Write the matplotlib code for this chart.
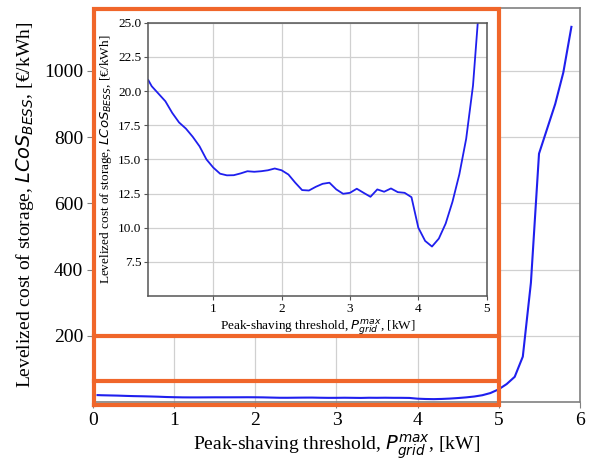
import matplotlib
matplotlib.use("Agg")
import matplotlib.pyplot as plt
from matplotlib.lines import Line2D
from matplotlib.patches import Rectangle

# Data (peak-shaving threshold [kW] vs LCoS [€/kWh])
threshold_kw = [0.05, 0.1, 0.2, 0.3, 0.4, 0.5, 0.6, 0.7, 0.8, 0.9,
                1.0, 1.1, 1.2, 1.3, 1.4, 1.5, 1.6, 1.7, 1.8, 1.9,
                2.0, 2.1, 2.2, 2.3, 2.4, 2.5, 2.6, 2.7, 2.8, 2.9,
                3.0, 3.1, 3.2, 3.3, 3.4, 3.5, 3.6, 3.7, 3.8, 3.9,
                4.0, 4.1, 4.2, 4.3, 4.4, 4.5, 4.6, 4.7, 4.8, 4.9,
                5.0, 5.1, 5.2, 5.3, 5.4, 5.5, 5.6, 5.7, 5.8, 5.9]
lcos = [20.8, 20.35, 19.8, 19.25, 18.4, 17.7, 17.25, 16.65, 15.95, 15.0,
        14.4, 13.95, 13.83, 13.84, 13.97, 14.13, 14.09, 14.13, 14.2, 14.33,
        14.2, 13.89, 13.29, 12.75, 12.72, 12.99, 13.21, 13.29, 12.80, 12.48,
        12.55, 12.85, 12.55, 12.26, 12.80, 12.63, 12.87, 12.60, 12.55, 12.23,
        10.0, 9.03, 8.62, 9.2, 10.3, 11.9, 13.9, 16.5, 20.4, 27.0,
        38, 54, 76, 137, 360, 750, 825, 900, 995, 1133]

main_xticks = [0, 1, 2, 3, 4, 5, 6]
main_yticks = [200, 400, 600, 800, 1000]
inset_xticks = [1, 2, 3, 4, 5]
inset_yticks = [7.5, 10.0, 12.5, 15.0, 17.5, 20.0, 22.5, 25.0]

plt.rcParams['font.family'] = ['Liberation Serif', 'DejaVu Serif']
plt.rcParams['mathtext.fontset'] = 'dejavusans'

fig = plt.figure(figsize=(5.97, 4.62), dpi=100)
ax = fig.add_axes([0.1566, 0.1299, 0.8141, 0.8528])
ax.plot(threshold_kw, lcos, color='#1f1fee', lw=1.5, zorder=3)
ax.set_xlim(0, 6)
ax.set_ylim(0, 1190)
ax.set_xticks(main_xticks)
ax.set_yticks(main_yticks)
ax.grid(True, color='#d0d0d0', lw=0.9)
for s in ax.spines.values():
    s.set_color('#808080')
    s.set_linewidth(1.2)
ax.tick_params(labelsize=14, color='#808080', length=4)
ax.set_xlabel(r'Peak-shaving threshold, $P_{grid}^{max}$, [kW]', fontsize=14, labelpad=2)
ax.set_ylabel(r'Levelized cost of storage, $LCoS_{BESS}$, [€/kWh]', fontsize=14, labelpad=6)

# Orange highlight frames (in main data coords)
orange = '#F0662A'
x0, x1 = 0.01, 5.0
ylow, yzoom, yins, ytop = -9, 62, 200, 1186

# white backdrop of the inset panel (hides main grid behind it)
ax.add_patch(Rectangle((x0, yins), x1 - x0, ytop - yins + 10, facecolor='white',
                       edgecolor='none', zorder=2, clip_on=False))

# Inset
axi = fig.add_axes([0.2484, 0.3593, 0.5668, 0.5916])
axi.set_facecolor('white')
axi.plot(threshold_kw, lcos, color='#1f1fee', lw=1.3)
axi.set_xlim(0.05, 5.0)
axi.set_ylim(5, 25)
axi.set_xticks(inset_xticks)
axi.set_yticks(inset_yticks)
axi.set_yticklabels([f'{v:.1f}' for v in inset_yticks])
axi.grid(True, color='#d0d0d0', lw=0.9)
for s in axi.spines.values():
    s.set_color('#555555')
    s.set_linewidth(1.1)
axi.tick_params(labelsize=9.5, color='#555555', length=3, pad=2)
axi.set_xlabel(r'Peak-shaving threshold, $P_{grid}^{max}$, [kW]', fontsize=9.5, labelpad=2)
axi.set_ylabel(r'Levelized cost of storage, $LCoS_{BESS}$, [€/kWh]', fontsize=9.5, labelpad=3)

frame = Line2D([x0, x1, x1, x0, x0], [ylow, ylow, ytop, ytop, ylow],
               transform=ax.transData, color=orange, lw=3, zorder=20,
               solid_joinstyle='miter')
fig.add_artist(frame)
for yy in (yzoom, yins):
    fig.add_artist(Line2D([x0, x1], [yy, yy], transform=ax.transData,
                          color=orange, lw=3, zorder=20))

fig.savefig('out.png', dpi=100)
